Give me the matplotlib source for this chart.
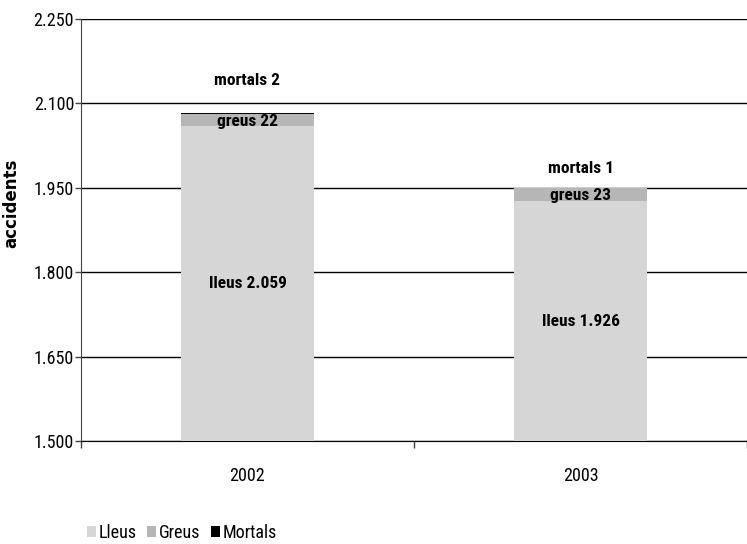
import matplotlib
matplotlib.use("Agg")
import matplotlib.pyplot as plt
from matplotlib.patches import Patch
from matplotlib.ticker import FixedLocator, FuncFormatter

plt.rcParams['font.family'] = ['Liberation Sans Narrow', 'Roboto Condensed', 'Asap Condensed', 'DejaVu Sans']

years = ['2002', '2003']
lleus = [2059, 1926]
greus = [22, 23]
mortals = [2, 1]
series_names = ['Lleus', 'Greus', 'Mortals']
colors = ['#d6d6d6', '#b6b6b6', '#000000']
yticks = [1500, 1650, 1800, 1950, 2100, 2250]

def fmt(v, pos=None):
    return f"{int(v):,}".replace(',', '.')

fig = plt.figure(figsize=(7.47, 5.44), dpi=100)
ax = fig.add_axes([81/747, 1 - 441/544, 1 - 81/747, (441 - 19)/544])

x = list(range(len(years)))
w = 0.40
bottom1 = lleus
bottom2 = [a + b for a, b in zip(lleus, greus)]
ax.bar(x, [l - 1500 for l in lleus], w, bottom=1500, color=colors[0], zorder=3)
ax.bar(x, greus, w, bottom=bottom1, color=colors[1], zorder=3)
ax.bar(x, mortals, w, bottom=bottom2, color=colors[2], zorder=3)

ax.set_ylim(1500, 2250)
ax.set_xlim(-0.5, 1.5 - 8/337)
ax.yaxis.set_major_locator(FixedLocator(yticks))
ax.yaxis.set_major_formatter(FuncFormatter(fmt))
ax.grid(axis='y', color='black', linewidth=1, zorder=1)
ax.tick_params(axis='y', length=4, width=1, labelsize=13, pad=1, color='#444444')

ax.set_xticks(x)
ax.set_xticklabels(years)
ax.set_xticks([-0.5, 0.5, 1.5], minor=True)
ax.tick_params(axis='x', which='major', length=0, labelsize=13, pad=19)
ax.tick_params(axis='x', which='minor', length=5, width=1, color='#444444')

for s in ['top', 'right']:
    ax.spines[s].set_visible(False)
ax.spines['left'].set_color('#444444')
ax.spines['bottom'].set_color('black')

ax.set_ylabel('accidents', fontsize=12, fontweight='bold', family=['DejaVu Sans'])
ax.yaxis.set_label_coords(-61/666, 0.563)

label_offsets = [58, 35]
for i in x:
    ax.text(i, (1500 + lleus[i]) / 2, f"lleus {fmt(lleus[i])}", ha='center', va='center',
            fontsize=12.5, fontweight='bold', zorder=4)
    ax.text(i, lleus[i] + greus[i] / 2 - 2, f"greus {greus[i]}", ha='center', va='center',
            fontsize=12.5, fontweight='bold', zorder=4)
    ax.text(i, bottom2[i] + mortals[i] + label_offsets[i], f"mortals {mortals[i]}", ha='center', va='center',
            fontsize=12.5, fontweight='bold', zorder=4)

handles = [Patch(facecolor=c, edgecolor='none') for c in colors]
fig.legend(handles, series_names, loc='lower left', bbox_to_anchor=(85/747, 0.0),
           ncol=3, frameon=False, fontsize=13, handlelength=0.5, handleheight=0.55,
           handletextpad=0.15, columnspacing=0.6, borderaxespad=0.0, borderpad=0.1)

fig.savefig('out.png', dpi=100)
